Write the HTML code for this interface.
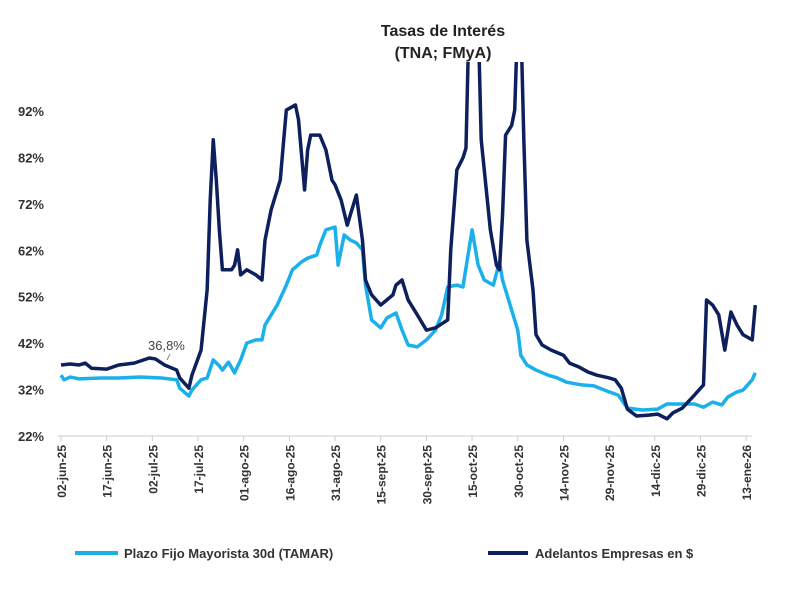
<!DOCTYPE html>
<html><head><meta charset="utf-8"><style>
body{margin:0;background:#fff;width:800px;height:584px;overflow:hidden;font-family:"Liberation Sans",sans-serif}
</style></head><body>
<svg id="chart" width="800" height="584" xmlns="http://www.w3.org/2000/svg" font-family="Liberation Sans, sans-serif">
<text x="443" y="36" text-anchor="middle" font-size="16" font-weight="bold" fill="#222">Tasas de Interés</text>
<text x="443" y="58" text-anchor="middle" font-size="16" font-weight="bold" fill="#222">(TNA; FMyA)</text>
<defs><clipPath id="plot"><rect x="40" y="62" width="760" height="390"/></clipPath></defs>
<g id="yaxis"></g>
<g id="xaxis"></g>
<g id="series" clip-path="url(#plot)"></g>
<g>
<text x="148" y="350" font-size="13" fill="#444">36,8%</text>
<line x1="170" y1="354" x2="167" y2="360" stroke="#888" stroke-width="1"/>
</g>
<g>
<line x1="75" y1="553" x2="118" y2="553" stroke="#1ab0ea" stroke-width="4"/>
<text x="124" y="558" font-size="13" font-weight="bold" fill="#333">Plazo Fijo Mayorista 30d (TAMAR)</text>
<line x1="488" y1="553" x2="528" y2="553" stroke="#0d1f5c" stroke-width="4"/>
<text x="535" y="558" font-size="13" font-weight="bold" fill="#333">Adelantos Empresas en $</text>
</g>
</svg>
<script>
const yTicks=[22,32,42,52,62,72,82,92];
const xTickLabels=["02-jun-25","17-jun-25","02-jul-25","17-jul-25","01-ago-25","16-ago-25","31-ago-25","15-sept-25","30-sept-25","15-oct-25","30-oct-25","14-nov-25","29-nov-25","14-dic-25","29-dic-25","13-ene-26"];
const xTickDays=[0,15,30,45,60,75,90,105,120,135,150,165,180,195,210,225];
const darkDays=[0,3,6,8,10,15,19,24,29,31,34,38,39,42,43,46,48,49,50,51,52,53,56,57,58,59,61,64,66,67,69,72,73,74,77,78,80,81,82,85,87,89,90,92,94,95,97,99,100,102,105,109,110,112,114,117,120,123,127,128,130,132,133,134,137,138,141,143,144,145,146,148,149,150,151,152,153,155,156,158,161,165,167,170,173,176,180,182,184,186,189,193,196,199,201,204,208,211,212,214,216,218,220,222,224,227,228];
const darkVals=[37.3,37.5,37.3,37.7,36.6,36.4,37.3,37.7,38.8,38.6,37.3,36.2,34.5,32.3,35.1,40.5,53.5,72.8,85.8,77.1,66.4,57.8,57.8,58.8,62.1,56.7,57.8,56.7,55.6,64.2,70.7,77.1,84.7,92.2,93.3,90.1,75.0,83.6,86.8,86.8,83.6,77.1,76.1,72.8,67.4,69.6,73.9,64.2,55.6,52.4,50.2,52.4,54.5,55.6,51.3,48.1,44.8,45.3,47.0,62.1,79.3,81.9,84.0,112,112,85.8,66.4,58.8,57.8,69.6,86.8,88.9,92.2,112,112,85.8,64.2,53.5,43.8,41.6,40.5,39.4,37.7,36.9,35.8,35.1,34.5,34.1,32.3,27.8,26.3,26.5,26.7,25.7,27.0,28.0,30.8,33.0,51.3,50.2,48.1,40.5,48.7,45.9,43.8,42.7,50.2];
const lightDays=[0,1,3,6,13,19,26,33,38,39,42,43,46,48,50,52,53,55,57,59,61,64,66,67,71,74,76,79,81,84,85,87,89,90,91,93,95,97,99,100,102,105,107,110,112,114,117,120,123,125,127,130,132,135,137,139,142,144,145,148,150,151,153,156,160,163,166,171,175,180,183,186,191,196,199,203,208,211,214,217,219,222,224,227,228];
const lightVals=[35.1,34.1,34.7,34.3,34.5,34.5,34.7,34.5,34.1,32.3,30.6,31.9,34.1,34.5,38.4,37.1,36.2,37.9,35.6,38.4,42.0,42.7,42.7,45.9,50.2,54.5,57.8,59.5,60.3,61.0,63.1,66.4,66.8,67.0,58.8,65.3,64.2,63.6,62.1,54.5,47.0,45.3,47.4,48.5,44.8,41.6,41.2,42.7,44.8,48.1,54.1,54.5,54.1,66.4,58.8,55.6,54.5,59.5,55.6,49.1,44.8,39.4,37.3,36.2,35.1,34.5,33.6,33.0,32.8,31.5,30.8,28.0,27.6,27.8,28.9,28.9,28.9,28.2,29.3,28.7,30.4,31.5,31.9,34.1,35.6];
const NS="http://www.w3.org/2000/svg";
const xs=d=>61+d*3.045;
const ys=v=>436-(v-22)*4.643;
function mk(tag,attrs,parent){const e=document.createElementNS(NS,tag);for(const k in attrs)e.setAttribute(k,attrs[k]);parent.appendChild(e);return e;}
const ya=document.getElementById('yaxis');
yTicks.forEach(t=>{const e=mk('text',{x:44,y:ys(t)+5,'text-anchor':'end','font-size':13,'font-weight':'bold',fill:'#333'},ya);


e.textContent=t+'%';});
const xa=document.getElementById('xaxis');
const al=mk('line',{x1:58,y1:436,x2:752,y2:436,stroke:'#ccc','stroke-width':1},xa);


xTickLabels.forEach((l,i)=>{const x=xs(xTickDays[i]);
const tk=mk('line',{x1:x,y1:436,x2:x,y2:441,stroke:'#ccc'},xa);


const e=mk('text',{transform:`translate(${x+5},445) rotate(-90)`,'text-anchor':'end','font-size':12,'font-weight':'bold',fill:'#333'},xa);


e.textContent=l;});
const sg=document.getElementById('series');
function line(days,vals,color,name){const p=mk('polyline',{points:days.map((d,i)=>xs(d)+','+ys(vals[i])).join(' '),fill:'none',stroke:color,'stroke-width':3.5,'stroke-linejoin':'round'},sg);

}
line(lightDays,lightVals,'#1ab0ea','series-tamar');
line(darkDays,darkVals,'#0d1f5c','series-adelantos');
</script>
</body></html>
